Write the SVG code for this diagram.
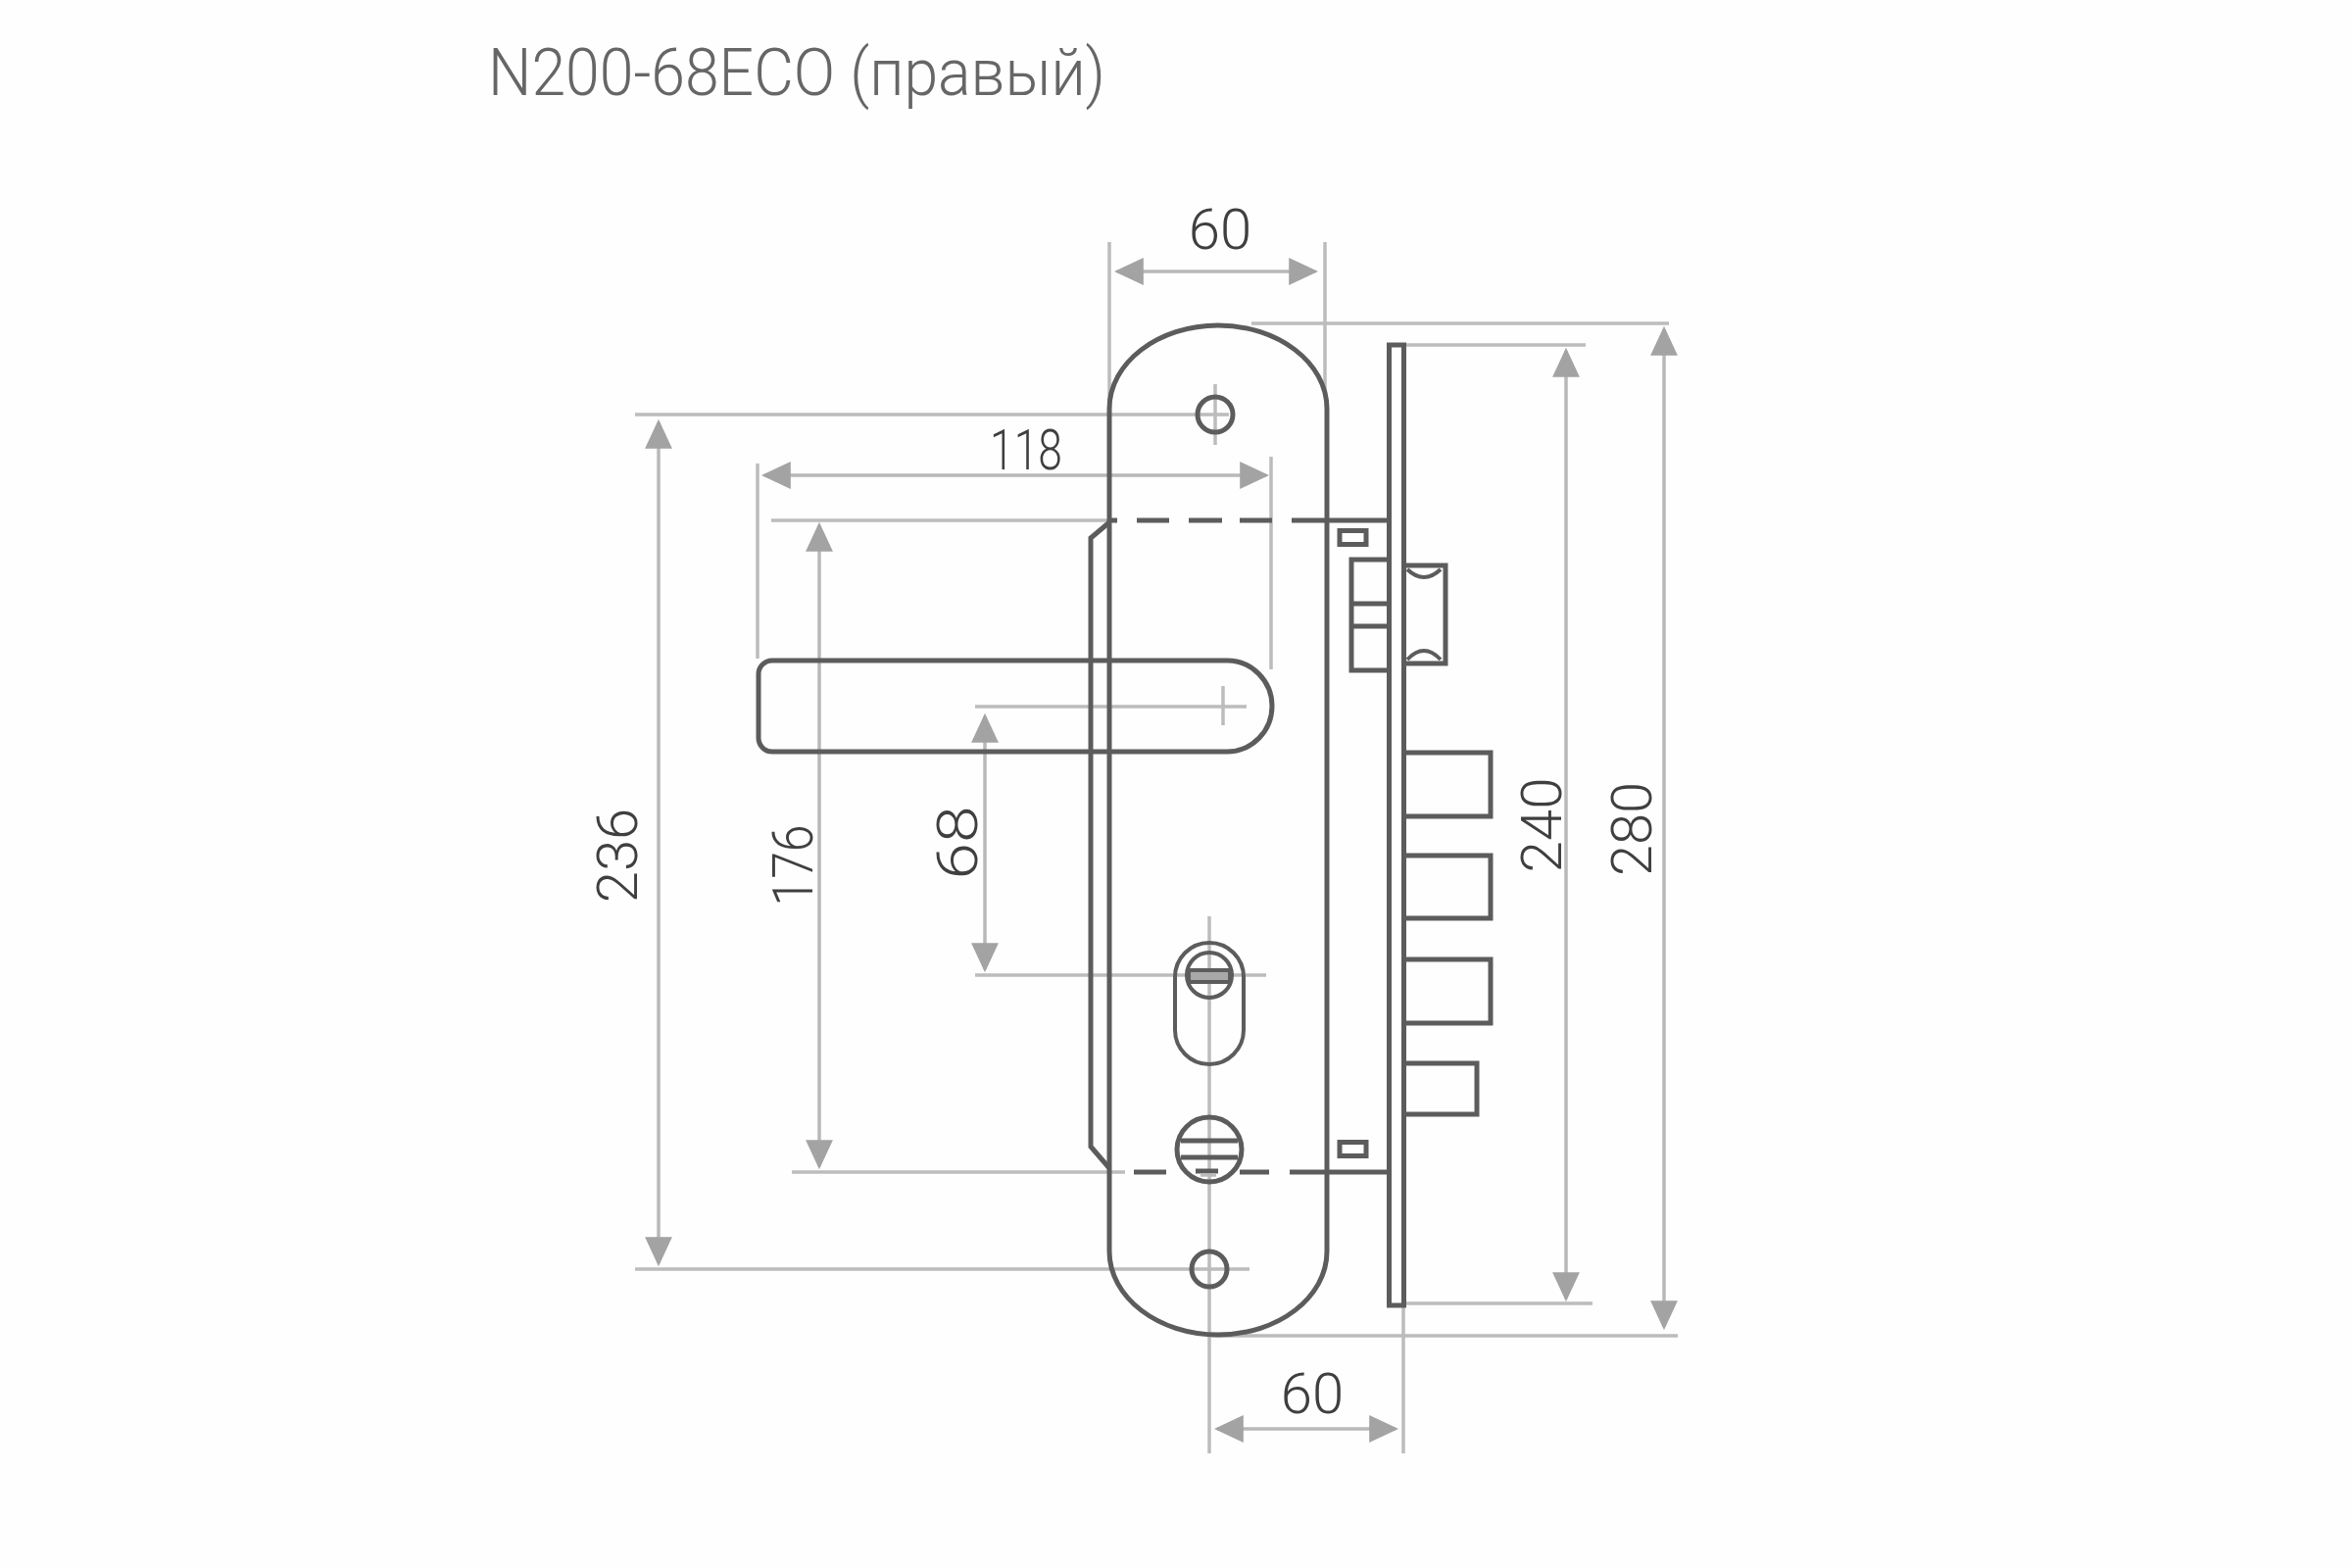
<svg xmlns="http://www.w3.org/2000/svg" width="2400" height="1600" viewBox="0 0 2400 1600">
<defs>
<marker id="ah" markerUnits="userSpaceOnUse" markerWidth="30" markerHeight="30" refX="25" refY="13" orient="auto-start-reverse" viewBox="0 0 28 26"><path d="M0,0 L28,13 L0,26 Z" fill="#a3a3a3"/></marker>
</defs>
<style>
.d{fill:none;stroke:#5c5c5c;stroke-width:5}
.t{fill:none;stroke:#5c5c5c;stroke-width:4}
.g{fill:none;stroke:#bcbcbc;stroke-width:3.5}
.a{fill:none;stroke:#b8b8b8;stroke-width:3.5;marker-start:url(#ah);marker-end:url(#ah)}
text{font-family:"Roboto","Liberation Sans",sans-serif;font-weight:300;fill:#3f3f3f;font-size:58px}
</style>
<rect width="2400" height="1600" fill="#fefefe"/>
<text id="title" x="498" y="97" style="font-size:66px;fill:#666" textLength="630" lengthAdjust="spacingAndGlyphs">N200-68ECO (правый)</text>
<g id="connectors">
<path class="g" d="M1132,247V412M1352,247V400M1277,330H1703M1432,352H1618M1432,1330H1625M1234,1363H1712"/>
<path class="g" d="M648,423H1254M1240,392V454M648,1295H1275M1234,935V1483M1432,1330V1483"/>
<path class="g" d="M773,473V672M1297,466V683M787,531H1132M808,1196H1148M995,721H1272M1248,700V740M995,995H1292"/>
<path class="a" d="M1140,277H1342"/>
<path class="a" d="M780,485H1292"/>
<path class="a" d="M672,431V1289"/>
<path class="a" d="M836,536V1190"/>
<path class="a" d="M1005,731V989"/>
<path class="a" d="M1598,358V1325"/>
<path class="a" d="M1698,336V1354"/>
<path class="a" d="M1242,1458H1424"/>
</g>
<g id="handle-plate">
<path class="d" d="M1132,1277V417C1132,370 1182,332 1243,332C1304,332 1354,370 1354,417V1277C1354,1324 1304,1362 1243,1362C1182,1362 1132,1324 1132,1277Z"/>
<path class="d" d="M1132,533L1113,549V1170L1132,1192"/>
<path class="d" d="M1130,531H1140M1160,531H1193M1213,531H1247M1265,531H1298M1318,531H1415"/>
<path class="d" d="M1157,1196H1190M1220,1195H1243M1265,1196H1295M1316,1196H1415"/>
</g>
<g id="lever">
<path class="d" d="M788,674H1252A46,46.5 0 0 1 1252,767H788A14,14 0 0 1 774,753V688A14,14 0 0 1 788,674Z"/>
</g>
<g id="screw-top"><circle class="d" cx="1240" cy="423" r="18"/></g>
<g id="screw-bottom"><circle class="d" cx="1234" cy="1295" r="18"/></g>
<g id="cylinder">
<path class="t" d="M1199,997A35,35 0 0 1 1269,997V1051A35,35 0 0 1 1199,1051Z"/>
<circle class="t" cx="1234" cy="995" r="23"/>
<rect x="1213" y="990" width="42" height="12" fill="#a8a8a8" stroke="#5c5c5c" stroke-width="4"/>
</g>
<g id="thumb-turn">
<circle class="d" cx="1234" cy="1173" r="33"/>
<path class="d" d="M1205,1164H1263M1205,1181H1263"/>
<path class="g" d="M1225,1199H1241"/>
</g>
<g id="lock-case">
<rect class="d" x="1417.500" y="352" width="15" height="980"/>
<rect class="d" x="1367" y="541.500" width="27" height="14"/>
<rect class="d" x="1367" y="1165.500" width="27" height="14"/>
<path class="d" d="M1417,571H1379V684H1417M1379,616H1417M1379,639H1417"/>
<path class="d" d="M1432,577H1475V677H1432"/>
<path class="t" d="M1436,581Q1453,597 1470,581M1436,673Q1453,655 1470,673"/>
<path class="d" d="M1432,768H1521V833H1432M1432,873H1521V937H1432M1432,979H1521V1044H1432"/>
<path class="d" d="M1432,1085H1507V1137H1432"/>
</g>
<g id="labels">
<text transform="translate(1245,254)" text-anchor="middle">60</text>
<text transform="translate(1339,1442)" text-anchor="middle">60</text>
<text transform="translate(1047,479)" text-anchor="middle" textLength="74" lengthAdjust="spacingAndGlyphs">118</text>
<text transform="translate(650,873) rotate(-90)" text-anchor="middle">236</text>
<text transform="translate(829,883) rotate(-90)" text-anchor="middle" textLength="83" lengthAdjust="spacingAndGlyphs">176</text>
<text transform="translate(997,860) rotate(-90)" text-anchor="middle" textLength="75" lengthAdjust="spacingAndGlyphs">68</text>
<text transform="translate(1593,842) rotate(-90)" text-anchor="middle" textLength="97" lengthAdjust="spacingAndGlyphs">240</text>
<text transform="translate(1685,846) rotate(-90)" text-anchor="middle" textLength="96" lengthAdjust="spacingAndGlyphs">280</text>
</g>
</svg>
